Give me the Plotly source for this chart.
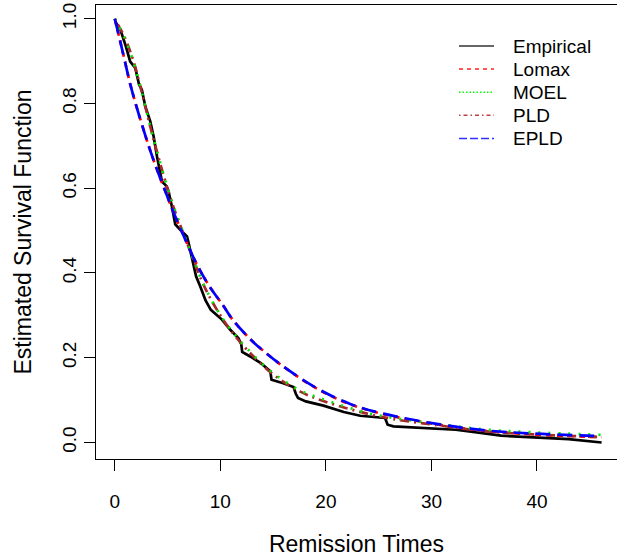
"""
Survival curves for remission times: empirical vs fitted models
"""

import plotly.graph_objects as go

# empirical survival
emp_x = [0.08, 0.52, 1.05, 1.46, 1.94, 2.3, 2.57, 2.89, 3.36, 3.68, 4.0, 4.47, 4.9, 5.1,
         5.41, 5.73, 6.2, 6.84, 6.99, 7.31, 7.7, 8.1, 8.6, 9.1, 9.7, 10.15, 10.94, 11.72,
         11.98, 12.07, 12.83, 13.8, 14.73, 14.85, 15.96, 16.93, 17.15, 17.36, 18.1, 19.77,
         21.7, 23.25, 25.6, 25.85, 26.4, 32.3, 34.3, 36.6, 43.0, 46.12]
emp_y = [0.992, 0.975, 0.935, 0.899, 0.884, 0.845, 0.832, 0.793, 0.758, 0.722, 0.675, 0.616,
         0.605, 0.592, 0.557, 0.515, 0.502, 0.486, 0.471, 0.433, 0.392, 0.368, 0.335, 0.313,
         0.300, 0.290, 0.266, 0.246, 0.232, 0.214, 0.203, 0.188, 0.168, 0.148, 0.140, 0.131,
         0.115, 0.105, 0.097, 0.087, 0.072, 0.063, 0.058, 0.042, 0.038, 0.030, 0.024, 0.016,
         0.008, 0.0]

# fitted curves
lomax_x = [0, 0.52, 1.0, 1.47, 2.1, 2.89, 3.4, 4.0, 4.94, 5.57, 6.52, 7.78, 8.88, 10.3,
           11.25, 12.83, 13.47, 15.98, 19.15, 22.3, 25.45, 30.2, 34.9, 39.66, 46.12]
lomax_y = [1.0, 0.946, 0.895, 0.845, 0.789, 0.725, 0.686, 0.644, 0.583, 0.543, 0.488, 0.420,
           0.372, 0.322, 0.287, 0.244, 0.229, 0.179, 0.127, 0.090, 0.067, 0.044, 0.028,
           0.019, 0.0125]

epld_x = [0, 0.52, 1.0, 1.47, 2.1, 2.89, 3.4, 4.0, 4.94, 5.57, 6.52, 7.78, 8.88, 10.3,
          11.25, 12.83, 13.47, 15.98, 19.15, 22.3, 25.45, 30.2, 34.9, 39.66, 46.12]
epld_y = [1.0, 0.946, 0.895, 0.845, 0.789, 0.725, 0.686, 0.644, 0.583, 0.543, 0.488, 0.420,
          0.372, 0.322, 0.287, 0.244, 0.229, 0.179, 0.128, 0.091, 0.068, 0.045, 0.029,
          0.021, 0.015]

pld_x = [0, 0.2, 0.83, 1.63, 2.26, 2.89, 3.52, 4.15, 4.78, 5.57, 6.84, 8.41, 9.68, 10.94,
         12.52, 15.04, 17.57, 20.1, 23.9, 26.4, 30.2, 34.9, 39.66, 46.12]
pld_y = [1.0, 0.99, 0.962, 0.911, 0.856, 0.793, 0.730, 0.672, 0.617, 0.555, 0.471, 0.372,
         0.313, 0.266, 0.219, 0.160, 0.120, 0.095, 0.068, 0.055, 0.042, 0.027, 0.019, 0.013]

moel_x = [0, 0.2, 0.83, 1.63, 2.26, 2.89, 3.52, 4.15, 4.78, 5.57, 6.84, 8.41, 9.68, 10.94,
          12.52, 15.04, 17.57, 20.1, 23.9, 26.4, 30.2, 34.9, 39.66, 46.12]
moel_y = [1.0, 0.99, 0.960, 0.909, 0.855, 0.793, 0.731, 0.674, 0.619, 0.557, 0.472, 0.373,
          0.314, 0.268, 0.222, 0.163, 0.123, 0.099, 0.070, 0.058, 0.045, 0.031, 0.024, 0.018]

x_ticks = [0, 10, 20, 30, 40]
y_ticks = [0.0, 0.2, 0.4, 0.6, 0.8, 1.0]
y_tick_labels = ['0.0', '0.2', '0.4', '0.6', '0.8', '1.0']

FONT = 'Liberation Sans, Arial, Helvetica, sans-serif'
W, H = 617, 557
M_L, M_R, M_T, M_B = 96, 0, 5, 98

series = [
    # name, x, y, color, dash, shape
    ('Empirical', emp_x, emp_y, 'black', 'solid', 'linear'),
    ('Lomax', lomax_x, lomax_y, '#FF0000', '6px,5px', 'spline'),
    ('PLD', pld_x, pld_y, '#A52A2A', '2px,5px,9px,5px', 'spline'),
    ('MOEL', moel_x, moel_y, '#00E600', '2px,8px', 'spline'),
    ('EPLD', epld_x, epld_y, '#0000FF', '15px,7px', 'spline'),
]
legend_order = ['Empirical', 'Lomax', 'MOEL', 'PLD', 'EPLD']
legend_color = {'Empirical': '#333333', 'Lomax': '#FF2020', 'MOEL': '#00FF00',
                'PLD': '#C04040', 'EPLD': '#3030FF'}
legend_dash = {'Empirical': 'solid', 'Lomax': '4px,4px', 'MOEL': '1.5px,2px',
               'PLD': '1.5px,3px,4px,3px', 'EPLD': '8px,3px'}

fig = go.Figure()

for name, xs, ys, color, dash, shape in series:
    fig.add_trace(go.Scatter(
        x=xs, y=ys, mode='lines', name=name, showlegend=False,
        line=dict(color=color, width=2.7, dash=dash, shape=shape),
        hoverinfo='skip'
    ))


def px_to_paper(px, py):
    # pixel position on the page -> paper coordinates of the plot area
    pw = W - M_L - M_R
    ph = H - M_T - M_B
    return (px - M_L) / pw, (H - M_B - py) / ph


# R-style legend (no border), thin sample lines
for i, name in enumerate(legend_order):
    row_y = 46 + 23.1 * i
    x0, y0 = px_to_paper(459, row_y)
    x1, _ = px_to_paper(494, row_y)
    xt, _ = px_to_paper(511, row_y)
    fig.add_shape(type='line', xref='paper', yref='paper', x0=x0, x1=x1, y0=y0, y1=y0,
                  line=dict(color=legend_color[name], width=1.5, dash=legend_dash[name]))
    fig.add_annotation(text=name, xref='paper', yref='paper', x=xt, y=y0,
                       xanchor='left', yanchor='middle', showarrow=False,
                       font=dict(size=19, color='black'))

fig.update_layout(
    width=W, height=H,
    margin=dict(l=M_L, r=M_R, t=M_T, b=M_B),
    plot_bgcolor='white', paper_bgcolor='white',
    font=dict(family=FONT, size=19, color='black'),
    showlegend=False,
    xaxis=dict(
        range=[-1.78, 47.58], tickvals=x_ticks,
        ticks='outside', ticklen=11, tickcolor='black', tickwidth=1,
        showline=True, linecolor='black', linewidth=1, mirror=True,
        showgrid=False, zeroline=False, ticklabelstandoff=14,
        title=dict(text='Remission Times', standoff=26)
    ),
    yaxis=dict(
        range=[-0.039, 1.0325], tickvals=y_ticks, ticktext=y_tick_labels,
        tickangle=-90,
        ticks='outside', ticklen=11, tickcolor='black', tickwidth=1,
        showline=True, linecolor='black', linewidth=1,
        showgrid=False, zeroline=False, ticklabelstandoff=0,
        title=dict(text='Estimated Survival Function', standoff=21)
    ),
)

# page body margin off so the figure sits at the window's corner; no modebar
fig.write_html("out.html", config={'displayModeBar': False},
               post_script="document.body.style.margin='0';")
